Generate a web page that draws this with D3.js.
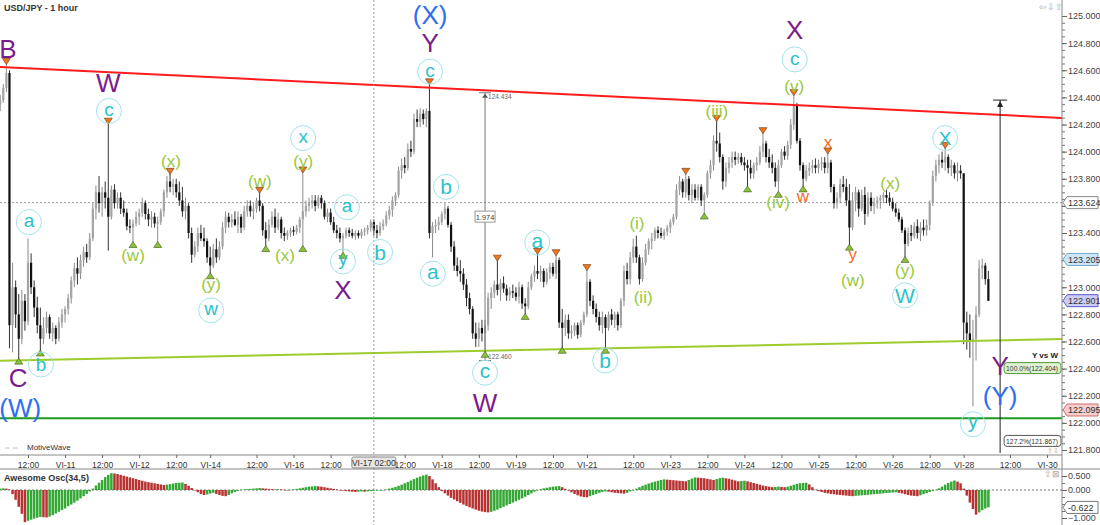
<!DOCTYPE html>
<html><head><meta charset="utf-8">
<script src="https://cdn.jsdelivr.net/npm/d3@7"></script>
<style>
body{margin:0;background:#fff}
svg{display:block}
text{font-family:"Liberation Sans",Arial,sans-serif}
</style>
</head><body>
<svg id="c" width="1100" height="525"></svg>
<script>
// ---------- DATA ----------
// hourly USD/JPY bars: [open, high, low, close]
const bars = [
[124.35,124.42,124.30,124.38],[124.38,124.50,124.36,124.47],[124.47,124.65,124.44,124.58],[124.58,124.60,122.55,122.72],
[122.72,123.18,122.52,123.00],[123.00,123.05,122.70,122.80],[122.80,122.95,122.47,122.62],[122.62,122.98,122.58,122.90],
[122.90,122.95,122.68,122.75],[122.75,123.36,122.72,123.18],[123.18,123.25,122.95,123.00],[123.00,123.05,122.78,122.85],
[122.85,122.93,122.66,122.72],[122.72,122.85,122.53,122.62],[122.62,122.78,122.58,122.70],[122.70,122.82,122.66,122.78],
[122.78,122.80,122.62,122.66],[122.66,122.74,122.60,122.70],[122.70,122.72,122.58,122.62],[122.62,122.78,122.60,122.74],
[122.74,122.84,122.70,122.80],[122.80,122.86,122.74,122.84],[122.84,122.95,122.80,122.92],[122.92,123.08,122.88,123.05],
[123.05,123.18,123.00,123.14],[123.14,123.22,123.02,123.10],[123.10,123.24,123.06,123.20],[123.20,123.30,123.15,123.26],
[123.26,123.32,123.18,123.22],[123.22,123.40,123.20,123.36],[123.36,123.62,123.34,123.58],[123.58,123.75,123.50,123.70],
[123.70,123.82,123.55,123.62],[123.62,123.74,123.52,123.70],[123.70,123.78,123.58,123.66],[123.66,124.21,123.27,123.52],
[123.52,123.75,123.50,123.72],[123.72,123.76,123.58,123.62],[123.62,123.70,123.58,123.66],[123.66,123.70,123.54,123.58],
[123.58,123.64,123.52,123.55],[123.55,123.58,123.42,123.45],[123.45,123.50,123.40,123.44],[123.44,123.50,123.33,123.47],
[123.47,123.56,123.45,123.52],[123.52,123.58,123.46,123.55],[123.55,123.66,123.52,123.62],[123.62,123.64,123.50,123.54],
[123.54,123.58,123.45,123.50],[123.50,123.56,123.44,123.52],[123.52,123.55,123.44,123.47],[123.47,123.52,123.33,123.48],
[123.48,123.58,123.46,123.56],[123.56,123.72,123.52,123.70],[123.70,123.82,123.66,123.78],[123.78,123.84,123.70,123.74],
[123.74,123.80,123.68,123.76],[123.76,123.80,123.66,123.70],[123.70,123.78,123.60,123.64],[123.64,123.74,123.52,123.56],
[123.56,123.66,123.50,123.60],[123.60,123.62,123.36,123.40],[123.40,123.44,123.18,123.24],[123.24,123.34,123.22,123.30],
[123.30,123.44,123.26,123.40],[123.40,123.46,123.34,123.36],[123.36,123.44,123.30,123.34],[123.34,123.36,123.18,123.22],
[123.22,123.30,123.10,123.16],[123.16,123.32,123.14,123.28],[123.28,123.36,123.18,123.22],[123.22,123.34,123.20,123.30],
[123.30,123.48,123.28,123.44],[123.44,123.56,123.40,123.52],[123.52,123.55,123.44,123.48],[123.48,123.54,123.44,123.50],
[123.50,123.56,123.45,123.46],[123.46,123.56,123.40,123.52],[123.52,123.54,123.40,123.44],[123.44,123.60,123.42,123.56],
[123.56,123.64,123.52,123.60],[123.60,123.64,123.52,123.56],[123.56,123.62,123.50,123.58],[123.58,123.66,123.55,123.64],
[123.64,123.70,123.56,123.60],[123.60,123.62,123.38,123.42],[123.42,123.48,123.30,123.36],[123.36,123.50,123.34,123.46],
[123.46,123.56,123.44,123.52],[123.52,123.58,123.40,123.44],[123.44,123.55,123.42,123.50],[123.50,123.52,123.36,123.40],
[123.40,123.44,123.34,123.38],[123.38,123.42,123.35,123.40],[123.40,123.44,123.37,123.42],[123.42,123.45,123.38,123.41],
[123.41,123.46,123.39,123.44],[123.44,123.52,123.40,123.50],[123.50,123.85,123.30,123.56],[123.56,123.64,123.52,123.60],
[123.60,123.66,123.56,123.62],[123.62,123.68,123.58,123.64],[123.64,123.68,123.56,123.60],[123.60,123.68,123.58,123.66],
[123.66,123.68,123.58,123.62],[123.62,123.64,123.50,123.52],[123.52,123.58,123.48,123.55],[123.55,123.58,123.46,123.48],
[123.48,123.52,123.40,123.42],[123.42,123.46,123.36,123.40],[123.40,123.44,123.33,123.36],[123.36,123.40,123.25,123.38],
[123.38,123.44,123.36,123.42],[123.42,123.44,123.37,123.40],[123.40,123.43,123.36,123.38],[123.38,123.42,123.35,123.40],
[123.40,123.42,123.36,123.38],[123.38,123.43,123.36,123.41],[123.41,123.44,123.38,123.42],[123.42,123.46,123.39,123.44],
[123.44,123.50,123.41,123.48],[123.48,123.50,123.38,123.42],[123.42,123.46,123.36,123.40],[123.40,123.48,123.38,123.45],
[123.45,123.50,123.42,123.47],[123.47,123.56,123.45,123.53],[123.53,123.60,123.50,123.57],[123.57,123.67,123.52,123.64],
[123.64,123.70,123.60,123.68],[123.68,123.89,123.66,123.86],[123.86,123.95,123.80,123.90],[123.90,123.96,123.84,123.88],
[123.88,124.06,123.86,124.02],[124.02,124.08,123.96,124.00],[124.00,124.28,123.98,124.24],[124.24,124.31,124.18,124.22],
[124.22,124.32,124.18,124.28],[124.28,124.31,124.20,124.24],[124.24,124.32,124.18,124.30],[124.30,124.50,123.36,123.40],
[123.40,123.48,123.22,123.45],[123.45,123.50,123.40,123.46],[123.46,123.52,123.42,123.48],[123.48,123.56,123.46,123.54],
[123.54,123.62,123.50,123.58],[123.58,123.60,123.44,123.46],[123.46,123.48,123.26,123.30],[123.30,123.34,123.12,123.16],
[123.16,123.22,123.08,123.12],[123.12,123.20,123.04,123.10],[123.10,123.14,122.98,123.02],[123.02,123.06,122.86,122.92],
[122.92,122.96,122.80,122.84],[122.84,122.86,122.62,122.66],[122.66,122.74,122.56,122.62],[122.62,122.74,122.56,122.70],
[122.70,122.76,122.60,122.66],[122.66,122.76,122.52,122.72],[122.72,122.96,122.68,122.92],[122.92,123.00,122.84,122.96],
[122.96,123.05,122.92,123.02],[123.02,123.20,122.94,122.98],[122.98,123.06,122.90,123.03],[123.03,123.08,122.96,122.99],
[122.99,123.02,122.90,122.94],[122.94,123.00,122.90,122.97],[122.97,123.02,122.92,122.96],[122.96,123.00,122.90,122.93],
[122.93,123.04,122.88,123.00],[123.00,123.02,122.84,122.88],[122.88,122.92,122.80,122.86],[122.86,123.04,122.84,123.00],
[123.00,123.10,122.98,123.08],[123.08,123.16,123.04,123.12],[123.12,123.25,123.06,123.10],[123.10,123.16,123.04,123.12],
[123.12,123.14,123.00,123.04],[123.04,123.14,123.02,123.11],[123.11,123.18,123.06,123.15],[123.15,123.18,123.08,123.10],
[123.10,123.24,123.06,123.20],[123.20,123.22,122.70,122.74],[122.74,122.84,122.55,122.70],[122.70,122.80,122.64,122.76],
[122.76,122.80,122.62,122.66],[122.66,122.72,122.62,122.68],[122.68,122.74,122.64,122.72],[122.72,122.74,122.62,122.65],
[122.65,122.76,122.63,122.74],[122.74,122.82,122.72,122.80],[122.80,123.13,122.78,123.04],[123.04,123.06,122.86,122.90],
[122.90,122.94,122.80,122.84],[122.84,122.88,122.74,122.78],[122.78,122.82,122.68,122.72],[122.72,122.82,122.66,122.78],
[122.78,122.80,122.55,122.70],[122.70,122.82,122.68,122.80],[122.80,122.84,122.72,122.76],[122.76,122.82,122.70,122.80],
[122.80,122.82,122.68,122.72],[122.72,122.92,122.70,122.90],[122.90,123.16,122.86,123.12],[123.12,123.18,123.02,123.06],
[123.06,123.26,123.02,123.22],[123.22,123.36,123.18,123.30],[123.30,123.38,123.18,123.22],[123.22,123.24,123.02,123.06],
[123.06,123.22,123.04,123.18],[123.18,123.32,123.16,123.28],[123.28,123.36,123.24,123.34],[123.34,123.40,123.28,123.36],
[123.36,123.44,123.34,123.42],[123.42,123.45,123.36,123.40],[123.40,123.44,123.36,123.38],[123.38,123.43,123.35,123.41],
[123.41,123.46,123.38,123.44],[123.44,123.50,123.40,123.48],[123.48,123.54,123.46,123.52],[123.52,123.76,123.50,123.72],
[123.72,123.82,123.68,123.78],[123.78,123.80,123.66,123.70],[123.70,123.84,123.66,123.80],[123.80,123.82,123.64,123.68],
[123.68,123.76,123.62,123.72],[123.72,123.76,123.64,123.66],[123.66,123.76,123.64,123.74],[123.74,123.76,123.60,123.64],
[123.64,123.70,123.54,123.68],[123.68,123.86,123.66,123.84],[123.84,123.94,123.80,123.90],[123.90,124.12,123.86,124.08],
[124.08,124.23,124.00,124.06],[124.06,124.14,123.92,123.96],[123.96,123.98,123.72,123.78],[123.78,123.92,123.74,123.88],
[123.88,123.96,123.84,123.92],[123.92,124.00,123.88,123.96],[123.96,124.00,123.90,123.94],[123.94,123.99,123.91,123.96],
[123.96,123.99,123.90,123.92],[123.92,123.96,123.86,123.90],[123.90,123.94,123.74,123.88],[123.88,123.94,123.80,123.84],
[123.84,123.92,123.80,123.90],[123.90,123.96,123.86,123.92],[123.92,124.04,123.90,124.00],[124.00,124.14,123.96,124.06],
[124.06,124.08,123.92,123.96],[123.96,124.02,123.88,123.92],[123.92,123.98,123.84,123.88],[123.88,123.92,123.74,123.78],
[123.78,123.94,123.70,123.90],[123.90,124.02,123.88,124.00],[124.00,124.04,123.94,123.97],[123.97,124.08,123.94,124.05],
[124.05,124.24,124.02,124.20],[124.20,124.42,124.16,124.34],[124.34,124.36,124.06,124.08],[124.08,124.10,123.86,123.90],
[123.90,123.92,123.74,123.80],[123.80,123.90,123.78,123.86],[123.86,123.92,123.82,123.88],[123.88,123.94,123.84,123.90],
[123.90,123.95,123.84,123.88],[123.88,123.94,123.84,123.91],[123.91,123.96,123.86,123.92],[123.92,123.96,123.84,123.88],
[123.88,123.99,123.84,123.92],[123.92,123.94,123.70,123.74],[123.74,123.76,123.58,123.62],[123.62,123.70,123.58,123.66],
[123.66,123.80,123.62,123.76],[123.76,123.82,123.70,123.74],[123.74,123.80,123.60,123.64],[123.64,123.76,123.31,123.44],
[123.44,123.70,123.42,123.64],[123.64,123.74,123.56,123.70],[123.70,123.72,123.52,123.58],[123.58,123.72,123.56,123.68],
[123.68,123.74,123.46,123.54],[123.54,123.70,123.52,123.66],[123.66,123.70,123.56,123.60],[123.60,123.66,123.54,123.62],
[123.62,123.67,123.58,123.64],[123.64,123.68,123.58,123.66],[123.66,123.70,123.62,123.68],[123.68,123.72,123.62,123.66],
[123.66,123.70,123.60,123.63],[123.63,123.66,123.56,123.58],[123.58,123.62,123.52,123.55],[123.55,123.58,123.48,123.50],
[123.50,123.52,123.40,123.42],[123.42,123.44,123.22,123.32],[123.32,123.44,123.30,123.40],[123.40,123.46,123.34,123.38],
[123.38,123.48,123.36,123.45],[123.45,123.50,123.36,123.40],[123.40,123.48,123.34,123.44],[123.44,123.50,123.38,123.42],
[123.42,123.50,123.38,123.46],[123.46,123.64,123.42,123.62],[123.62,123.86,123.60,123.82],[123.82,123.94,123.78,123.90],
[123.90,123.98,123.84,123.94],[123.94,124.00,123.88,123.92],[123.92,124.03,123.86,123.96],[123.96,123.98,123.84,123.88],
[123.88,123.94,123.82,123.90],[123.90,123.92,123.80,123.84],[123.84,123.92,123.78,123.86],[123.86,123.90,123.80,123.84],
[123.84,123.84,122.58,122.74],[122.74,122.82,122.54,122.66],[122.66,122.80,122.48,122.60],[122.60,122.76,122.12,122.62],
[122.62,122.86,122.46,122.80],[122.80,123.20,122.78,123.14],[123.14,123.21,123.06,123.16],[123.16,123.18,123.02,123.06],
[123.06,123.12,122.90,122.90]
];

// Awesome Oscillator (34,5) histogram, one value per bar
const osc = [
0.05,0.06,0.05,0.02,-0.15,-0.35,-0.60,-0.85,-1.15,-1.10,-1.06,-1.02,-0.99,-0.96,-0.97,-0.98,
-0.95,-0.90,-0.84,-0.78,-0.72,-0.66,-0.58,-0.52,-0.45,-0.38,-0.30,-0.22,-0.14,
-0.05,0.05,0.16,0.26,0.36,0.46,0.54,0.60,
0.59,0.57,0.54,0.51,0.48,0.45,0.42,0.39,0.36,0.33,0.30,0.28,0.26,0.24,0.22,0.20,0.18,
0.19,0.21,0.23,0.25,0.26,0.27,0.22,0.15,0.07,0.00,-0.08,-0.14,-0.18,-0.16,-0.13,-0.10,
-0.14,-0.18,-0.21,-0.22,-0.18,-0.12,-0.07,-0.03,0.01,0.02,0.03,0.04,0.05,0.06,0.07,
0.06,0.05,0.04,0.03,0.02,0.03,0.02,0.01,0.00,0.01,0.02,
0.04,0.06,0.08,0.10,0.12,0.13,0.14,
0.13,0.12,0.10,0.08,0.06,0.04,0.02,0.00,-0.02,-0.04,-0.05,
-0.06,-0.07,-0.06,-0.05,-0.06,-0.05,-0.04,-0.03,-0.02,-0.02,-0.01,
0.02,0.05,0.08,0.11,0.15,0.19,0.24,0.29,0.34,0.39,0.44,0.48,0.52,0.55,
0.50,0.38,0.24,0.10,-0.04,
-0.12,-0.20,-0.28,-0.34,-0.40,-0.46,-0.52,-0.57,-0.62,-0.66,-0.70,-0.74,-0.77,-0.79,-0.80,
-0.78,-0.74,-0.70,-0.65,-0.60,-0.55,-0.50,-0.45,-0.40,-0.35,-0.30,-0.24,-0.18,-0.12,-0.06,
-0.01,0.03,0.06,0.08,0.10,0.12,0.13,0.14,
0.10,0.04,-0.02,-0.08,-0.14,-0.19,-0.23,-0.25,-0.26,
-0.22,-0.18,-0.14,-0.10,-0.07,-0.05,
-0.06,-0.08,-0.10,-0.11,-0.12,-0.13,
-0.10,-0.05,0.00,0.05,0.10,0.15,0.19,0.23,0.27,0.30,0.33,0.36,0.38,
0.37,0.36,0.35,0.34,0.33,0.32,0.31,
0.36,0.41,0.45,0.44,0.43,0.42,0.40,0.38,0.36,0.39,0.42,0.44,
0.42,0.40,0.37,0.34,0.31,0.32,0.33,
0.31,0.28,0.25,0.22,0.19,0.16,0.14,0.12,0.10,
0.11,0.12,0.11,0.10,0.12,0.15,0.19,0.22,0.24,0.25,0.26,
0.20,0.10,0.01,-0.04,-0.07,-0.10,-0.12,-0.14,-0.15,-0.17,-0.18,
-0.19,-0.20,-0.21,-0.22,-0.21,-0.20,-0.19,
-0.18,-0.17,-0.16,-0.15,-0.14,-0.13,-0.12,-0.11,-0.10,-0.09,-0.08,
-0.10,-0.12,-0.15,-0.18,-0.20,-0.21,-0.22,
-0.19,-0.15,-0.11,-0.07,-0.03,0.01,
0.06,0.12,0.19,0.25,0.30,0.34,0.30,0.24,
0.05,-0.20,-0.45,-0.68,-0.88,-0.80,-0.72,-0.66,-0.62
];

// time axis (bar index of each label)
const timeTickIdx = [9,21,33,45,57,68,83,95,107,131,143,155,167,179,190,205,217,229,241,253,265,277,289,301,312,327,339];
const timeTickText = ["12:00","VI-11","12:00","VI-12","12:00","VI-14","12:00","VI-16","12:00","12:00","VI-18","12:00","VI-19","12:00","VI-21","12:00","VI-23","12:00","VI-24","12:00","VI-25","12:00","VI-26","12:00","VI-28","12:00","VI-30"];
const priceTicks = [125.0,124.8,124.6,124.4,124.2,124.0,123.8,123.6,123.4,123.2,123.0,122.8,122.6,122.4,122.2,122.0,121.8];
const oscTicks = [0.5,0.0,-1.0];

// crosshair
const crossIdx = 121, crossText = "VI-17 02:00", crossPrice = 123.624;

// price tags on the right axis: [price, kind]
const priceTags = [[123.624,"cross"],[123.205,"high"],[122.901,"last"],[122.095,"line"]];
const oscLast = -0.622;

// trend lines: [[index, price],[index, price]]
const resistLine = [[-1,124.625],[344,124.248]];
const supportLine = [[-1,122.458],[344,122.618]];
const flatLine = [[-1,122.035],[344,122.035]];

// wave pivots (bar index)
const highPivots = [2,35,55,84,98,139,161,174,180,190,222,232,247,257,268,306];
const lowPivots = [6,13,43,51,68,86,98,111,157,170,182,196,228,242,252,260,275,293];

// wave labels: [bar index, price, text, degree]
const waveLabels = [
[2.5,124.76,"B","P"],[35,124.51,"W","P"],[35.2,124.30,"c","C"],
[5.8,122.33,"C","P"],[6.5,122.11,"(W)","B"],
[9.3,123.48,"a","C"],[13.2,122.43,"b","C"],
[43,123.23,"(w)","G"],[55.3,123.92,"(x)","G"],
[68.3,123.01,"(y)","G"],[68.3,122.83,"w","C"],
[84.1,123.77,"(w)","G"],[92.2,123.23,"(x)","G"],
[98.1,124.10,"x","C"],[98.1,123.92,"(y)","G"],
[112.3,123.59,"a","C"],[111,123.19,"y","C"],[111,122.98,"X","P"],
[123,123.26,"b","CS"],
[139.2,125.01,"(X)","B"],[139.2,124.80,"Y","P"],[139.2,124.59,"c","C"],
[144.4,123.74,"b","CS"],[140.1,123.10,"a","CS"],
[157,122.37,"c","CS"],[157,122.15,"W","P"],
[173.9,123.33,"a","CS"],[195.9,122.46,"b","CS"],
[206.2,123.46,"(i)","G"],[208.2,122.92,"(ii)","G"],[232.1,124.29,"(iii)","G"],
[251.9,123.62,"(iv)","G"],[259.9,123.66,"w","O"],
[257.3,124.90,"X","P"],[257.3,124.68,"c","C"],[257.1,124.47,"(v)","G"],
[268.1,124.06,"x","O"],[276.1,123.22,"y","O"],[276.1,123.04,"(w)","G"],
[288.2,123.76,"(x)","G"],[293,123.12,"(y)","G"],[293,122.94,"W","CS"],
[306,124.10,"X","C"],[315,121.99,"y","CS"],
[323.8,122.42,"Y","P"],[323.8,122.20,"(Y)","B"]
];

// measurement tool: [bar index, top price, bottom price]
const measure = [157,124.434,122.460];
// projection: [bar index, top price], fib levels [text, price, kind]
const projIdx = 323.8, projTop = 124.38;
const projLevels = [["100.0%(122.404)",122.404,"g"],["127.2%(121.867)",121.867,"w"]];

// ---------- LAYOUT ----------
const svg = d3.select("#c");
const plotR = 1062, priceB = 453, axisY = 455, oscT = 469, H = 525;
const x = d3.scaleLinear().domain([9,327]).range([28,1010]);
const y = d3.scaleLinear().domain([121.8,125.0]).range([450,16]);
const yo = d3.scaleLinear().domain([-1,0.5]).range([518,476]);

const defs = svg.append("defs");
defs.append("clipPath").attr("id","cp").append("rect").attr("x",0).attr("y",0).attr("width",plotR).attr("height",priceB);
defs.append("clipPath").attr("id","co").append("rect").attr("x",0).attr("y",oscT+1).attr("width",plotR).attr("height",H-oscT-1);

svg.append("rect").attr("width",1100).attr("height",525).attr("fill","#fff");

const gP = svg.append("g").attr("clip-path","url(#cp)");

// crosshair
svg.append("line").attr("x1",x(crossIdx)).attr("x2",x(crossIdx)).attr("y1",0).attr("y2",H)
  .attr("stroke","#9a9a9a").attr("stroke-dasharray","2,2");
gP.append("line").attr("x1",0).attr("x2",plotR).attr("y1",y(crossPrice)).attr("y2",y(crossPrice))
  .attr("stroke","#9a9a9a").attr("stroke-dasharray","2,2");

// candles
const bw = 2.2;
gP.selectAll("line.wick").data(bars).join("line").attr("class","wick")
  .attr("x1",(d,i)=>x(i)).attr("x2",(d,i)=>x(i))
  .attr("y1",d=>y(d[1])).attr("y2",d=>y(d[2]))
  .attr("stroke",d=>d[3]>=d[0]?"#8c8c8c":"#333").attr("stroke-width",1);
gP.selectAll("rect.body").data(bars).join("rect").attr("class","body")
  .attr("x",(d,i)=>x(i)-bw/2).attr("width",bw)
  .attr("y",d=>y(Math.max(d[0],d[3])))
  .attr("height",d=>Math.max(1,Math.abs(y(d[0])-y(d[3]))))
  .attr("fill",d=>d[3]>=d[0]?"#a4a4a4":"#111");

// trend lines
const lineGen = d3.line().x(d=>x(d[0])).y(d=>y(d[1]));
gP.append("path").attr("d",lineGen(resistLine)).attr("stroke","#ff1c1c").attr("stroke-width",2).attr("fill","none");
gP.append("path").attr("d",lineGen(supportLine)).attr("stroke","#9dcc2c").attr("stroke-width",2).attr("fill","none");
gP.append("path").attr("d",lineGen(flatLine)).attr("stroke","#1f9a1f").attr("stroke-width",2).attr("fill","none");

// measurement
{
  const mx = x(measure[0]), yt = y(measure[1]), yb = y(measure[2]);
  gP.append("line").attr("x1",mx).attr("x2",mx).attr("y1",yt).attr("y2",yb).attr("stroke","#777");
  [yt,yb].forEach(v=>gP.append("line").attr("x1",mx-6).attr("x2",mx+6).attr("y1",v).attr("y2",v).attr("stroke","#777"));
  gP.append("path").attr("d",`M${mx-3},${yt+5}L${mx},${yt+1}L${mx+3},${yt+5}Z`).attr("fill","#555");
  gP.append("text").attr("x",mx+3).attr("y",yt+6).attr("font-size",6.5).attr("fill","#666").text(measure[1].toFixed(3));
  gP.append("text").attr("x",mx+3).attr("y",yb-1).attr("font-size",6.5).attr("fill","#666").text(measure[2].toFixed(3));
  const diff = (measure[1]-measure[2]).toFixed(3);
  const my = y((measure[1]+measure[2])/2) - 10;
  gP.append("rect").attr("x",mx-10).attr("y",my-5.5).attr("width",20).attr("height",11).attr("fill","#fff").attr("stroke","#999");
  gP.append("text").attr("x",mx).attr("y",my+3).attr("text-anchor","middle").attr("font-size",7.5).attr("fill","#444").text(diff);
}

// projection line
{
  const px = x(projIdx), yt = y(projTop);
  gP.append("line").attr("x1",px).attr("x2",px).attr("y1",yt).attr("y2",priceB).attr("stroke","#222");
  gP.append("line").attr("x1",px-7).attr("x2",px+7).attr("y1",yt).attr("y2",yt).attr("stroke","#222");
  gP.append("path").attr("d",`M${px-3},${yt+7}L${px},${yt+1}L${px+3},${yt+7}Z`).attr("fill","#222");
  gP.append("text").attr("x",1058).attr("y",y(122.404)-10).attr("text-anchor","end")
    .attr("font-size",8).attr("font-weight","bold").attr("fill","#222").text("Y vs W");
  projLevels.forEach(([t,p,k])=>{
    const yy = y(p);
    gP.append("rect").attr("x",px+4).attr("y",yy-5.5).attr("width",plotR-px-5).attr("height",11).attr("rx",3)
      .attr("fill",k==="g"?"#dff3d2":"#fff").attr("stroke",k==="g"?"#4f9a35":"#555");
    gP.append("text").attr("x",px+6).attr("y",yy+2.8).attr("font-size",7).attr("fill","#333")
      .attr("textLength",plotR-px-10).attr("lengthAdjust","spacingAndGlyphs").text(t);
  });
}

// pivot markers
gP.selectAll("path.hi").data(highPivots).join("path").attr("class","hi")
  .attr("d",i=>{const cx=x(i),cy=y(bars[i][1]);return `M${cx-4},${cy-5}L${cx+4},${cy-5}L${cx},${cy+1}Z`;})
  .attr("fill","#f0761e").attr("stroke","#6a3410").attr("stroke-width",0.6);
gP.selectAll("path.lo").data(lowPivots).join("path").attr("class","lo")
  .attr("d",i=>{const cx=x(i),cy=y(bars[i][2]);return `M${cx-4},${cy+5}L${cx+4},${cy+5}L${cx},${cy-1}Z`;})
  .attr("fill","#8cc13a").attr("stroke","#3a5a12").attr("stroke-width",0.6);

// wave labels
const sty = {
  P:{fill:"#7b1c8d",size:26,font:"Liberation Sans"},
  B:{fill:"#2f6ef2",size:26,font:"Liberation Sans"},
  C:{fill:"#2cc2ca",size:19,font:"Liberation Sans"},
  CS:{fill:"#2cc2ca",size:21,font:"Liberation Serif"},
  G:{fill:"#98c83a",size:17,font:"Liberation Serif"},
  O:{fill:"#f26b1d",size:17,font:"Liberation Sans"}
};
function baseOff(t,k){
  const s = sty[k].size;
  if(k==="G") return 0.27*s;
  if(/^[A-Z(]/.test(t)) return 0.36*s;
  if(t==="b") return 0.36*s;
  if(t==="y") return 0.16*s;
  return 0.27*s;
}
const gL = svg.append("g");
waveLabels.forEach(([i,p,t,k])=>{
  const cx = x(i), cy = y(p), s = sty[k];
  if(k==="C"||k==="CS"){
    gL.append("circle").attr("cx",cx).attr("cy",cy).attr("r",12.5).attr("fill","none").attr("stroke","#a3e3e8").attr("stroke-width",1);
  }
  gL.append("text").attr("x",cx).attr("y",cy+baseOff(t,k)).attr("text-anchor","middle")
    .attr("font-family",s.font).attr("font-size",s.size).attr("fill",s.fill).text(t);
});

// ---------- AXES ----------
svg.append("line").attr("x1",0).attr("x2",plotR).attr("y1",axisY).attr("y2",axisY).attr("stroke","#888");
svg.append("line").attr("x1",0).attr("x2",1100).attr("y1",oscT).attr("y2",oscT).attr("stroke","#888");
svg.append("line").attr("x1",plotR).attr("x2",plotR).attr("y1",0).attr("y2",H).attr("stroke","#888");

// time axis
const xAxis = d3.axisBottom(x).tickValues(timeTickIdx).tickSize(3)
  .tickFormat((d,i)=>timeTickText[i]);
const gx = svg.append("g").attr("transform",`translate(0,${axisY})`).call(xAxis);
gx.select(".domain").remove();
gx.selectAll("line").attr("stroke","#666");
gx.selectAll("text").attr("font-size",8.5).attr("fill","#333").attr("dy","0.85em");
{
  const cx = x(crossIdx);
  svg.append("rect").attr("x",cx-22).attr("y",457).attr("width",44).attr("height",11).attr("fill","#e6e6e6").attr("stroke","#8a8a8a").attr("rx",1.5);
  svg.append("text").attr("x",cx).attr("y",465.5).attr("text-anchor","middle").attr("font-size",8.5).attr("fill","#333").text(crossText);
}

// price axis (labels covered by a price tag are hidden, as in the source)
const tagYs = priceTags.map(d=>y(d[0]));
const minor = d3.range(121.8,125.0001,0.05);
const yMinor = d3.axisRight(y).tickValues(minor).tickSize(3).tickFormat("");
const gym = svg.append("g").attr("transform",`translate(${plotR},0)`).call(yMinor);
gym.select(".domain").remove(); gym.selectAll("line").attr("stroke","#777");
const yAxis = d3.axisRight(y).tickValues(priceTicks).tickSize(5).tickPadding(1)
  .tickFormat(d=>tagYs.some(t=>Math.abs(t-y(d))<9)?"":d3.format(".3f")(d));
const gy = svg.append("g").attr("transform",`translate(${plotR},0)`).call(yAxis);
gy.select(".domain").remove();
gy.selectAll("line").attr("stroke","#666");
gy.selectAll("text").attr("font-size",9).attr("fill","#444");

const tagStyle = {cross:["#fff","#888"],high:["#cfe6f6","#6fa9cf"],last:["#ccccf5","#5b5bd0"],line:["#f6cdcd","#d06b6b"]};
function tag(yy,txt,fill,stroke){
  svg.append("path").attr("d",`M${plotR+1},${yy}L${plotR+5},${yy-6}L1098,${yy-6}L1098,${yy+6}L${plotR+5},${yy+6}Z`)
    .attr("fill",fill).attr("stroke",stroke);
  svg.append("text").attr("x",plotR+6).attr("y",yy+3.3).attr("font-size",9).attr("fill","#333").text(txt);
}
priceTags.forEach(([p,k])=>tag(y(p),p.toFixed(3),tagStyle[k][0],tagStyle[k][1]));

// ---------- OSCILLATOR ----------
const gO = svg.append("g").attr("clip-path","url(#co)");
gO.append("line").attr("x1",0).attr("x2",plotR).attr("y1",yo(0)).attr("y2",yo(0)).attr("stroke","#777").attr("stroke-dasharray","2,2");
gO.selectAll("rect").data(osc).join("rect")
  .attr("x",(d,i)=>x(i)-1.25).attr("width",2.5)
  .attr("y",d=>Math.min(yo(0),yo(d))).attr("height",d=>Math.max(0.5,Math.abs(yo(d)-yo(0))))
  .attr("fill",(d,i)=>(i===0||d>=osc[i-1])?"#34a834":"#b83232");
const oMinor = d3.axisRight(yo).tickValues([0.5,0.25,0,-0.25,-0.5,-0.75,-1]).tickSize(3).tickFormat("");
const gom = svg.append("g").attr("transform",`translate(${plotR},0)`).call(oMinor);
gom.select(".domain").remove(); gom.selectAll("line").attr("stroke","#777");
const oAxis = d3.axisRight(yo).tickValues(oscTicks).tickSize(5).tickPadding(1).tickFormat(d3.format(".3f"));
const goa = svg.append("g").attr("transform",`translate(${plotR},0)`).call(oAxis);
goa.select(".domain").remove(); goa.selectAll("line").attr("stroke","#666");
goa.selectAll("text").attr("font-size",9).attr("fill","#444");
tag(yo(oscLast),oscLast.toFixed(3),"#fff","#777");

// ---------- TEXTS ----------
svg.append("text").attr("x",4).attr("y",11).attr("font-size",9).attr("font-weight","bold").attr("fill","#333").text("USD/JPY - 1 hour");
svg.append("text").attr("x",3).attr("y",450).attr("font-size",8).attr("fill","#999").attr("font-family","DejaVu Sans").text("⇔⇔");
svg.append("text").attr("x",27).attr("y",450).attr("font-size",8).attr("fill","#333").text("MotiveWave");
svg.append("text").attr("x",4).attr("y",481).attr("font-size",9).attr("font-weight","bold").attr("fill","#333").text("Awesome Osc(34,5)");
svg.append("text").attr("x",1039).attr("y",10).attr("font-size",9).attr("fill","#aaa").attr("font-family","DejaVu Sans").text("⇦⇩⇧");
svg.append("text").attr("x",1047).attr("y",453).attr("font-size",6.5).attr("fill","#aaa").attr("font-family","DejaVu Sans").text("⇧⇩");
svg.append("text").attr("x",1044).attr("y",477).attr("font-size",9).attr("fill","#aaa").attr("font-family","DejaVu Sans").text("⇧⊠");
</script>
</body></html>
